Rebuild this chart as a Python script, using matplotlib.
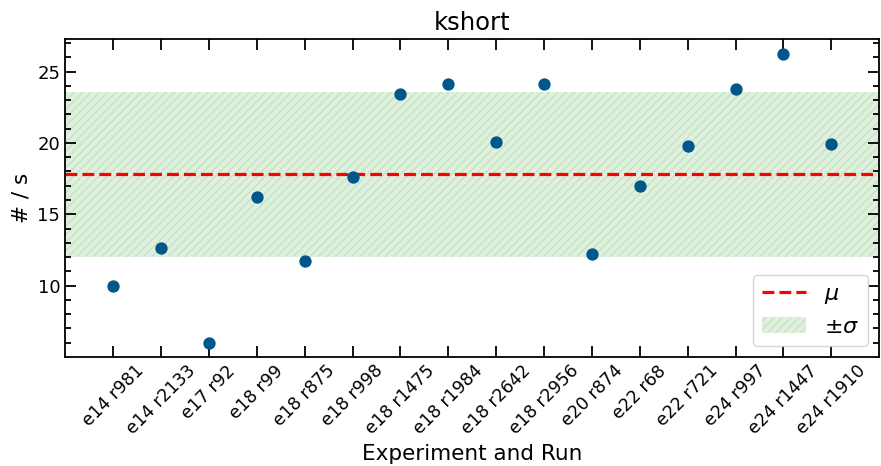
import numpy as np
import matplotlib
matplotlib.use("Agg")
import matplotlib.pyplot as plt
from matplotlib.lines import Line2D
from matplotlib.patches import Patch

# run labels and rates
runs = ["e14 r981", "e14 r2133", "e17 r92", "e18 r99", "e18 r875", "e18 r998",
        "e18 r1475", "e18 r1984", "e18 r2642", "e18 r2956", "e20 r874", "e22 r68",
        "e22 r721", "e24 r997", "e24 r1447", "e24 r1910"]
rates = [9.95, 12.6, 6.0, 16.2, 11.7, 17.6, 23.45, 24.1, 20.05, 24.15, 12.2, 17.0,
         19.8, 23.8, 26.25, 19.95]

mu = np.mean(rates)
sigma = np.std(rates)

fig, ax = plt.subplots(figsize=(8.81, 4.66), dpi=100)
x = np.arange(len(runs))

ax.axhspan(mu - sigma, mu + sigma, facecolor="#2ca02c", alpha=0.15,
           edgecolor="#2ca02c", hatch="////", linewidth=0)
ax.axhline(mu, color="red", linestyle="--", linewidth=2.3)
ax.scatter(x, rates, s=62, color="#00578a", zorder=3)

ax.set_xlim(-1, len(runs))
ax.set_ylim(5.0, 27.3)
ax.set_xticks(x)
ax.set_xticklabels(runs, rotation=45, fontsize=12.5)
ax.set_yticks([10, 15, 20, 25])
ax.set_yticks(np.arange(6, 28), minor=True)
ax.tick_params(axis="y", labelsize=13)
ax.tick_params(which="both", direction="in", top=True, right=True, width=1.3)
ax.tick_params(which="major", length=8)
ax.tick_params(which="minor", length=4)
ax.tick_params(axis="x", which="minor", bottom=False, top=False)
for s in ax.spines.values():
    s.set_linewidth(1.3)

ax.set_title("kshort", fontsize=17.5)
ax.set_xlabel("Experiment and Run", fontsize=15.5)
ax.set_ylabel("# / s", fontsize=15.5)

handles = [Line2D([], [], color="red", linestyle="--", linewidth=2.3),
           Patch(facecolor="#2ca02c", alpha=0.15, edgecolor="#2ca02c", hatch="////", linewidth=0)]
ax.legend(handles, [r"$\mu$", r"$\pm\sigma$"], loc="lower right", fontsize=16)

plt.subplots_adjust(left=0.074, right=0.998, top=0.917, bottom=0.234)
plt.savefig("out.png")
